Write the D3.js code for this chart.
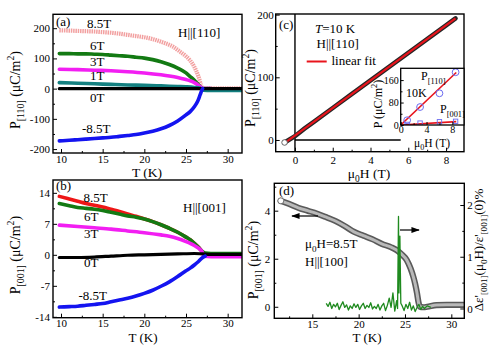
<!DOCTYPE html>
<html><head><meta charset="utf-8">
<script src="https://cdn.jsdelivr.net/npm/d3@7"></script>
<style>
body{margin:0;background:#fff}
svg text{fill:#000}
</style></head><body>
<svg id="fig" width="500" height="348"></svg>
<script>
// ---------- (a) P[110] vs T, field along [110] ----------
const tempTicks = [10, 15, 20, 25, 30];
const tempMinor = [12.5, 17.5, 22.5, 27.5];
const p110Ticks = [-200, -100, 0, 100, 200];
const p110Minor = [-150, -50, 50, 150];
const p110_8p5T = [[9.8,193],[11,192],[12,191],[13,190],[14,189],[15,187],[16,185],[17,182],[18,178],[19,174],[20,170],[21,164],[22,155],[23,145],[23.5,138],[24,128],[25,107],[25.5,93],[26,72],[26.5,40],[26.8,12],[27,0],[28,1],[31.7,1]];
const p110_6T = [[9.8,116],[11,116],[12,115],[13,115],[14,114],[15,113],[16,111],[17,109],[18,107],[19,104],[20,101],[21,96],[22,89],[23,80],[24,68],[25,52],[25.5,40],[26,28],[26.5,13],[26.8,4],[27,0],[28,0]];
const p110_3T = [[9.8,64],[12,63],[14,61],[16,59],[18,56],[20,52],[22,46],[23,42],[24,37],[25,30],[25.5,26],[26,20],[26.5,11],[26.8,4],[27,0],[28,0]];
const p110_1T = [[9.8,20],[12,18],[14,16],[16,14],[18,12],[20,11],[22,9],[24,7],[25,6],[26,4],[26.7,1],[27.1,-5],[28,-6],[31.7,-6]];
const p110_0T = [[9.8,0],[31.7,0]];
const p110_m8p5T = [[9.8,-173],[11,-171],[12,-169],[13,-167],[14,-165],[15,-163],[16,-161],[17,-158],[18,-155],[19,-152],[20,-147],[21,-141],[22,-133],[23,-122],[24,-107],[25,-87],[25.5,-76],[26,-60],[26.4,-42],[26.7,-20],[26.9,-5],[27,0]];

// ---------- (b) P[001] vs T, field along [001] ----------
const p001Ticks = [-14, -7, 0, 7, 14];
const p001Minor = [-10.5, -3.5, 3.5, 10.5];
const p001_8p5T = [[9.8,13.2],[11,12.6],[12,12.1],[13,11.6],[14,11.2],[15,10.8],[16,10.3],[17,9.8],[18,9.2],[19,8.7],[20,8.1],[21,7.5],[22,6.8],[23,6.0],[24,5.1],[25,4.0],[25.5,3.4],[26,2.6],[26.5,1.7],[27,0.6],[27.3,0]];
const p001_6T = [[9.8,11.6],[11,11.1],[12,10.7],[13,10.5],[14,10.3],[15,10.0],[16,9.6],[17,9.2],[18,8.8],[19,8.5],[20,8.1],[21,7.5],[22,6.8],[23,6.0],[24,5.1],[25,4.0],[25.5,3.4],[26,2.6],[26.5,1.7],[27,0.7],[27.3,0.4],[28,0.3],[31.7,0.3]];
const p001_3T = [[9.8,6.7],[12,6.4],[14,6.1],[16,5.8],[18,5.4],[20,5.0],[22,4.5],[23,4.2],[24,3.7],[25,3.0],[25.5,2.6],[26,2.1],[26.5,1.5],[26.9,0.8],[27.2,-0.3],[28,-0.4],[31.7,-0.4]];
const p001_0T = [[9.8,-0.6],[12,-0.6],[14,-0.5],[16,-0.3],[18,-0.1],[20,0.0],[22,0.1],[24,0.2],[26,0.3],[27,0.2],[28,0.1],[31.7,0.1]];
const p001_m8p5T = [[9.8,-11.8],[11,-11.7],[12,-11.6],[13,-11.4],[14,-11.2],[15,-11.0],[16,-10.6],[17,-10.2],[18,-9.8],[19,-9.3],[20,-8.7],[21,-8.0],[22,-7.1],[23,-6.1],[24,-4.9],[25,-3.6],[25.5,-3.0],[26,-2.3],[26.5,-1.5],[27,-0.6],[27.3,-0.3]];

// ---------- (c) P[110] vs field at 10 K ----------
const fieldTicks = [0, 2, 4, 6, 8];
const fieldMinor = [1, 3, 5, 7];
const p110FieldTicks = [0, 100, 200];
const p110FieldMinor = [50, 150];
const p110VsField = [[-0.55,-4],[0,6],[0.5,18],[1,29],[2,51],[3,73],[4,95],[5,117],[6,139],[7,161],[8,183],[8.5,194]];
const linearFit = [[-0.55,-5],[8.5,194]];
// inset: P at 10 K for both directions
const insetFieldTicks = [0, 4, 8];
const insetFieldMinor = [2, 6];
const insetPTicks = [0, 80, 160];
const insetPMinor = [40, 120];
const insetP110 = [[1,17],[3,64],[6,113],[8.5,188]];
const insetP001 = [[1,2],[3,6.7],[6,11.5],[8.5,13.1]];
const insetFit110 = [[0,0],[8.6,187]];
const insetFit001 = [[0,0],[8.6,12]];

// ---------- (d) P[001] and dielectric change, H || [100] ----------
const tempTicksD = [15, 20, 25, 30];
const pDTicks = [0, 2, 4];
const pDMinor = [1, 3, 5];
const epsTicks = [0, 1, 2];
const epsMinor = [0.5, 1.5];
const p001VsT = [[11.6,4.41],[12.5,4.28],[13.5,4.12],[14.5,4.0],[15.5,3.88],[16.5,3.73],[17.5,3.57],[18.5,3.36],[19.5,3.12],[20.5,2.96],[21.5,2.81],[22.5,2.62],[23.5,2.48],[24.1,2.36],[24.6,2.2],[25.2,1.94],[25.6,1.6],[25.9,1.25],[26.1,0.95],[26.3,0.56],[26.45,0.2],[26.6,0.0],[27,-0.02],[27.4,0.0],[28.4,0.07],[29.5,0.08],[31.3,0.08]];
const dEps = [[16.5,0.1],[16.7,0.04],[16.9,0.12],[17.1,0.0],[17.3,0.08],[17.5,0.03],[17.7,0.1],[17.9,-0.02],[18.1,0.06],[18.3,0.13],[18.5,0.02],[18.7,0.07],[18.9,-0.03],[19.1,0.05],[19.3,0.0],[19.5,0.09],[19.7,0.02],[19.9,0.08],[20.1,-0.02],[20.3,0.05],[20.5,0.1],[20.7,0.0],[20.9,0.06],[21.1,0.02],[21.3,0.11],[21.5,-0.01],[21.7,0.04],[21.9,0.0],[22.1,0.08],[22.3,-0.03],[22.5,0.05],[22.7,0.1],[22.9,-0.04],[23.1,0.06],[23.3,0.2],[23.5,0.02],[23.7,0.3],[23.9,-0.05],[24.1,0.15],[24.2,0.0],[24.3,1.78],[24.35,0.3],[24.45,1.4],[24.55,0.1],[24.7,0.05],[24.9,-0.04],[25.1,0.08],[25.3,0.0],[25.5,0.12],[25.7,-0.03],[25.9,0.05],[26.1,-0.06],[26.3,0.02],[26.5,0.08],[26.7,-0.02],[26.9,0.04],[27.1,0.0],[27.4,0.05],[27.8,0.02]];

const SERIF = '"Liberation Serif","Times New Roman",serif';
const svg = d3.select('#fig').attr('font-family', SERIF);
svg.append('rect').attr('width', 500).attr('height', 348).attr('fill', '#fff');

const fmt = d => String(d);
let clipId = 0;

function panel(box, xDom, yDom) {
  const x = d3.scaleLinear().domain(xDom).range([box.l, box.r]);
  const y = d3.scaleLinear().domain(yDom).range([box.b, box.t]);
  const id = 'clip' + (clipId++);
  svg.append('clipPath').attr('id', id).append('rect')
    .attr('x', box.l).attr('y', box.t).attr('width', box.r - box.l).attr('height', box.b - box.t);
  const plot = svg.append('g').attr('clip-path', `url(#${id})`);
  return { x, y, box, plot };
}

function tickAxis(axisFn, scale, vals, size, pad, format, tx, ty, fs) {
  const a = axisFn(scale).tickValues(vals).tickSize(size).tickSizeOuter(0).tickPadding(pad).tickFormat(format);
  const g = svg.append('g').attr('transform', `translate(${tx},${ty})`).call(a);
  g.select('.domain').remove();
  g.attr('font-family', SERIF).attr('font-size', fs);
  g.selectAll('line').attr('stroke-width', 1);
  return g;
}

function axes(p, o) {
  const fs = o.fs || 11;
  tickAxis(d3.axisBottom, p.x, o.xMajor, -o.tl, o.xPad, fmt, 0, p.box.b, fs);
  if (o.xMinor) tickAxis(d3.axisBottom, p.x, o.xMinor, -o.tl / 2, 0, () => '', 0, p.box.b, fs);
  tickAxis(d3.axisLeft, p.y, o.yMajor, -o.tl, o.yPad, fmt, p.box.l, 0, fs);
  if (o.yMinor) tickAxis(d3.axisLeft, p.y, o.yMinor, -o.tl / 2, 0, () => '', p.box.l, 0, fs);
}

function frame(p, w) {
  svg.append('rect').attr('x', p.box.l).attr('y', p.box.t)
    .attr('width', p.box.r - p.box.l).attr('height', p.box.b - p.box.t)
    .attr('fill', 'none').attr('stroke', '#000').attr('stroke-width', w || 1.4);
}

// rich text: parts are strings or {t, s:'sub'|'sup', i:true}
function rich(x, y, parts, size, opts = {}) {
  const t = svg.append('text').attr('font-size', size)
    .attr('text-anchor', opts.anchor || 'start');
  if (opts.rotate) t.attr('transform', `translate(${x},${y}) rotate(${opts.rotate})`);
  else t.attr('x', x).attr('y', y);
  let shift = 0;
  parts.forEach(p => {
    const o = typeof p === 'string' ? { t: p } : p;
    const target = o.s === 'sub' ? size * 0.3 : o.s === 'sup' ? -size * 0.4 : 0;
    const ts = t.append('tspan').text(o.t).attr('dy', target - shift)
      .attr('font-size', o.s ? size * 0.7 : size);
    if (o.i) ts.attr('font-style', 'italic');
    shift = target;
  });
  return t;
}

function curve(p, data, color, width, extra) {
  const line = d3.line().x(d => p.x(d[0])).y(d => p.y(d[1])).curve(d3.curveMonotoneX);
  const path = p.plot.append('path').datum(data).attr('d', line)
    .attr('fill', 'none').attr('stroke', color).attr('stroke-width', width)
    .attr('stroke-linejoin', 'round').attr('stroke-linecap', 'round');
  if (extra) extra(path);
  return path;
}

// ================= panel (a) =================
const pa = panel({ l: 53, r: 242, t: 14.3, b: 153 }, [9.04, 31.72], [-213, 246]);
curve(pa, p110_8p5T, '#f2a0a0', 4.2, s => s.attr('stroke-dasharray', '1.5 0.8').attr('stroke-linecap', 'butt'));
curve(pa, p110_6T, '#137a13', 3.6);
curve(pa, p110_3T, '#f21ef2', 3.6);
curve(pa, p110_1T, '#138080', 3.6);
curve(pa, p110_0T, '#000', 3.2);
curve(pa, p110_m8p5T, '#1414f0', 3.6);
axes(pa, { xMajor: tempTicks, xMinor: tempMinor, yMajor: p110Ticks, yMinor: p110Minor, tl: 4, xPad: 2.5, yPad: 3 });
frame(pa);
rich(56, 26, ['(a)'], 13);
rich(87, 28, ['8.5T'], 13);
rich(90, 50, ['6T'], 13);
rich(90, 66, ['3T'], 13);
rich(90, 80, ['1T'], 13);
rich(90, 101.5, ['0T'], 13);
rich(82, 133, ['-8.5T'], 13);
rich(178, 36.5, ['H||[110]'], 13);
rich(20, 90, ['P', { t: '[110]', s: 'sub' }, ' (μC/m', { t: '2', s: 'sup' }, ')'], 14, { anchor: 'middle', rotate: -90 });
rich(147, 177, ['T (K)'], 13.5, { anchor: 'middle' });

// ================= panel (b) =================
const pb = panel({ l: 53, r: 242, t: 180, b: 317.7 }, [9.04, 31.72], [-14.2, 16.9]);
curve(pb, p001_8p5T, '#ee1616', 3.6);
curve(pb, p001_6T, '#137a13', 3.6);
curve(pb, p001_3T, '#f21ef2', 3.6);
curve(pb, p001_0T, '#000', 3.2);
curve(pb, p001_m8p5T, '#1414f0', 3.6);
axes(pb, { xMajor: tempTicks, xMinor: tempMinor, yMajor: p001Ticks, yMinor: p001Minor, tl: 4, xPad: 1.5, yPad: 3 });
frame(pb);
rich(56, 190, ['(b)'], 13);
rich(83.5, 201.5, ['8.5T'], 13);
rich(84, 221, ['6T'], 13);
rich(84, 238.3, ['3T'], 13);
rich(84, 267.3, ['0T'], 13);
rich(78.5, 300, ['-8.5T'], 13);
rich(183, 211.5, ['H||[001]'], 13);
rich(20, 255, ['P', { t: '[001]', s: 'sub' }, ' (μC/m', { t: '2', s: 'sup' }, ')'], 14, { anchor: 'middle', rotate: -90 });
rich(143, 342, ['T (K)'], 13, { anchor: 'middle' });

// ================= panel (c) =================
const pc = panel({ l: 275.7, r: 464, t: 14, b: 151.7 }, [-1.02, 8.95], [-18.7, 201]);
const inBox = { l: 400.7, r: 464, t: 68.3, b: 125 };
// zero lines
pc.plot.append('line').attr('x1', pc.x(0)).attr('x2', pc.x(0)).attr('y1', pc.box.t).attr('y2', pc.box.b)
  .attr('stroke', '#000').attr('stroke-width', 1.4);
pc.plot.append('line').attr('x1', pc.x(0)).attr('x2', inBox.l).attr('y1', pc.y(0)).attr('y2', pc.y(0))
  .attr('stroke', '#000').attr('stroke-width', 1.4);
const lineC = d3.line().x(d => pc.x(d[0])).y(d => pc.y(d[1]));
pc.plot.append('path').datum(p110VsField).attr('d', lineC).attr('fill', 'none')
  .attr('stroke', '#262626').attr('stroke-width', 4.6).attr('stroke-linecap', 'round');
pc.plot.append('path').datum(linearFit).attr('d', lineC).attr('fill', 'none')
  .attr('stroke', '#e8141c').attr('stroke-width', 2.2);
pc.plot.append('circle').attr('cx', pc.x(p110VsField[0][0])).attr('cy', pc.y(p110VsField[0][1])).attr('r', 2.8)
  .attr('fill', '#fff').attr('stroke', '#555').attr('stroke-width', 0.9);
axes(pc, { xMajor: fieldTicks, xMinor: fieldMinor, yMajor: p110FieldTicks, yMinor: p110FieldMinor, tl: 4, xPad: 4.5, yPad: 2 });
frame(pc);
rich(279, 29, ['(c)'], 13);
rich(315, 33.3, [{ t: 'T', i: true }, '=10 K'], 13);
rich(316.5, 48.3, ['H||[110]'], 13);
svg.append('line').attr('x1', 306.7).attr('x2', 326.7).attr('y1', 61.5).attr('y2', 61.5)
  .attr('stroke', '#e8141c').attr('stroke-width', 2);
rich(331.5, 65, ['linear fit'], 13);
rich(255, 88, ['P', { t: '[110]', s: 'sub' }, ' (μC/m', { t: '2', s: 'sup' }, ')'], 14, { anchor: 'middle', rotate: -90 });
rich(369, 178, ['μ', { t: '0', s: 'sub' }, 'H (T)'], 13.5, { anchor: 'middle' });

// inset
svg.append('rect').attr('x', inBox.l).attr('y', inBox.t).attr('width', inBox.r - inBox.l)
  .attr('height', inBox.b - inBox.t).attr('fill', '#fff');
const pi = panel(inBox, [0, 9.8], [0, 202]);
const lineI = d3.line().x(d => pi.x(d[0])).y(d => pi.y(d[1]));
pi.plot.append('path').datum(insetFit110).attr('d', lineI).attr('stroke', '#e8141c').attr('stroke-width', 1.6).attr('fill', 'none');
pi.plot.append('path').datum(insetFit001).attr('d', lineI).attr('stroke', '#e8141c').attr('stroke-width', 1.6).attr('fill', 'none');
pi.plot.selectAll('circle.p110').data(insetP110).join('circle')
  .attr('cx', d => pi.x(d[0])).attr('cy', d => pi.y(d[1])).attr('r', 3.4)
  .attr('fill', 'none').attr('stroke', '#6a6af0').attr('stroke-width', 1);
pi.plot.selectAll('rect.p001').data(insetP001).join('rect')
  .attr('x', d => pi.x(d[0]) - 2.2).attr('y', d => pi.y(d[1]) - 2.2).attr('width', 4.4).attr('height', 4.4)
  .attr('fill', 'none').attr('stroke', '#6a6af0').attr('stroke-width', 0.9);
tickAxis(d3.axisBottom, pi.x, insetFieldTicks, -3, 1, fmt, 0, inBox.b, 10);
tickAxis(d3.axisBottom, pi.x, insetFieldMinor, -1.8, 0, () => '', 0, inBox.b, 10);
tickAxis(d3.axisLeft, pi.y, insetPTicks, -3, 2, fmt, inBox.l, 0, 10);
tickAxis(d3.axisLeft, pi.y, insetPMinor, -1.8, 0, () => '', inBox.l, 0, 10);
frame(pi, 1.3);
rich(421, 80, ['P', { t: '[110]', s: 'sub' }], 12);
rich(406, 96.5, ['10K'], 12);
rich(440, 113, ['P', { t: '[001]', s: 'sub' }], 12);
rich(382, 104, ['P (μC/m', { t: '2', s: 'sup' }, ')'], 12, { anchor: 'middle', rotate: -90 });
rich(432, 146.5, ['μ', { t: '0', s: 'sub' }, 'H (T)'], 11.5, { anchor: 'middle' });

// ================= panel (d) =================
const pd = panel({ l: 274.3, r: 464.3, t: 183.3, b: 318.3 }, [10.9, 31.4], [-0.48, 5.14]);
const yEps = d3.scaleLinear().domain([-0.19, 2.42]).range([pd.box.b, pd.box.t]);
const lineD = d3.line().x(d => pd.x(d[0])).y(d => pd.y(d[1])).curve(d3.curveMonotoneX);
pd.plot.append('path').datum(p001VsT).attr('d', lineD).attr('fill', 'none')
  .attr('stroke', '#5a5a5a').attr('stroke-width', 6.2).attr('stroke-linecap', 'round');
pd.plot.append('path').datum(p001VsT).attr('d', lineD).attr('fill', 'none')
  .attr('stroke', '#b9b9b9').attr('stroke-width', 3).attr('stroke-linecap', 'round');
pd.plot.append('circle').attr('cx', pd.x(p001VsT[0][0])).attr('cy', pd.y(p001VsT[0][1])).attr('r', 3)
  .attr('fill', '#fff').attr('stroke', '#666').attr('stroke-width', 0.9);
const lineEps = d3.line().x(d => pd.x(d[0])).y(d => yEps(d[1]));
pd.plot.append('path').datum(dEps).attr('d', lineEps).attr('fill', 'none')
  .attr('stroke', '#1f8a1f').attr('stroke-width', 1.3).attr('stroke-linejoin', 'round');
axes(pd, { xMajor: tempTicksD, xMinor: tempMinor, yMajor: pDTicks, yMinor: pDMinor, tl: 4, xPad: 1.5, yPad: 4 });
tickAxis(d3.axisRight, yEps, epsTicks, -4, 3, fmt, pd.box.r, 0, 11);
tickAxis(d3.axisRight, yEps, epsMinor, -2, 0, () => '', pd.box.r, 0, 11);
frame(pd);
// arrows pointing to the relevant axis
const defs = svg.append('defs');
defs.append('marker').attr('id', 'ah').attr('viewBox', '0 0 10 10').attr('refX', 9).attr('refY', 5)
  .attr('markerWidth', 7).attr('markerHeight', 7).attr('orient', 'auto-start-reverse')
  .append('path').attr('d', 'M0,1.5 L10,5 L0,8.5 Z').attr('fill', '#000');
svg.append('line').attr('x1', 318).attr('x2', 292).attr('y1', 216).attr('y2', 216)
  .attr('stroke', '#000').attr('stroke-width', 1.2).attr('marker-end', 'url(#ah)');
svg.append('line').attr('x1', 400).attr('x2', 419).attr('y1', 230).attr('y2', 230)
  .attr('stroke', '#000').attr('stroke-width', 1.2).attr('marker-end', 'url(#ah)');
rich(279, 195, ['(d)'], 13);
rich(305, 248, ['μ', { t: '0', s: 'sub' }, 'H=8.5T'], 13);
rich(305, 266, ['H||[100]'], 13);
rich(258, 260, ['P', { t: '[001]', s: 'sub' }, ' (μC/m', { t: '2', s: 'sup' }, ')'], 14, { anchor: 'middle', rotate: -90 });
rich(483, 250, ['Δε\'', { t: '[001]', s: 'sub' }, '(μ', { t: '0', s: 'sub' }, 'H)/ε\'', { t: '[001]', s: 'sub' }, '(0)%'], 13, { anchor: 'middle', rotate: -90 });
rich(367, 342, ['T (K)'], 13, { anchor: 'middle' });
</script>
</body></html>
